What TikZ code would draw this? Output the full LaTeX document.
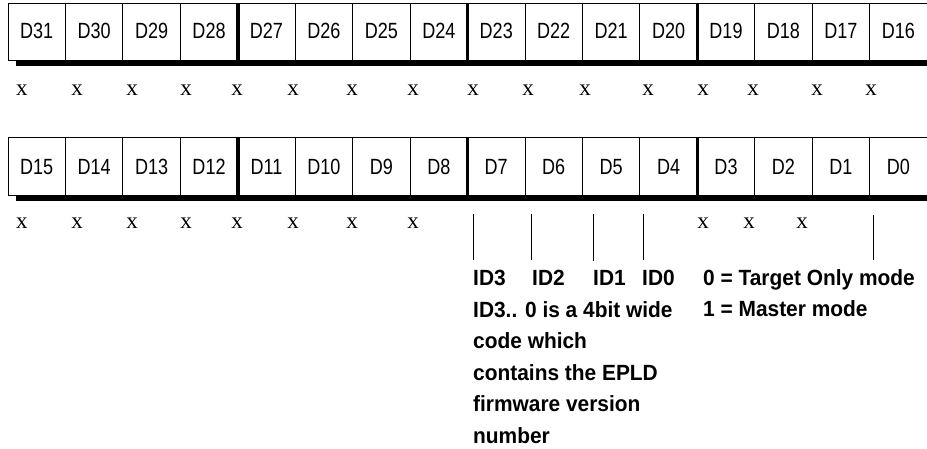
\documentclass[tikz,border=0pt]{standalone}
\usepackage{fontspec}
\newfontfamily\cellfont[FakeStretch=0.82]{Liberation Sans}
\newfontfamily\notefont[FakeStretch=0.95]{Liberation Sans}
\newfontfamily\markfont{Liberation Serif}
\tikzset{
  bitlabel/.style={font=\cellfont\fontsize{22}{26}\selectfont, inner sep=0pt},
  dontcare/.style={font=\markfont\fontsize{23}{26}\selectfont, inner sep=0pt, anchor=base},
  note/.style={font=\notefont\bfseries\fontsize{22}{31.6}\selectfont, inner sep=0pt, anchor=base west, align=left},
  tick/.style={black, line width=0.8pt, shorten >=9pt},
}
\begin{document}
\begin{tikzpicture}[x=1pt,y=-1pt]
\useasboundingbox (0,0) rectangle (927,448);
% register rows: \r = row, \t = top, \b = bottom, \ty = label line
\foreach \r/\t/\b/\ty in {0/3/60/31, 1/137/195/167}
{
    \fill[black] (16,\b) rectangle (935,\b+5.5);
    \draw[line width=0.8pt] (8,\t) rectangle (935,\b);
    \foreach \i in {1,...,15}
        \draw[line width=0.8pt] (8+57.44*\i,\t) -- (8+57.44*\i,\b);
    \foreach \i in {4,8,12}
        \draw[line width=3.5pt] (8+57.44*\i,\t) -- (8+57.44*\i,\b);
    \foreach \i in {0,...,15}
    {
        \pgfmathtruncatemacro\bit{31-16*\r-\i}
        \node[bitlabel] (d\bit) at (8+57.44*\i+28.72,\ty) {D\bit};
    }
}
% unused bits
\foreach \x in {22,77,132,186,237,293,352,413,473,528,585,648,703,753,817,871}
    \node[dontcare] (u\x) at (\x,95) {x};
\foreach \x in {22,77,132,186,237,293,352,413,703,749,802}
    \node[dontcare] (l\x) at (\x,228) {x};
% notes (multi-line nodes sit on their last line)
\node[note] (id3) at (473,285) {ID3};
\node[note] (id2) at (532,285) {ID2};
\node[note] (id1) at (593,285) {ID1};
\node[note] (id0) at (642,285) {ID0};
\node[note] (idtext) at (473,443.4) {ID3.. 0 is a 4bit wide\\code which\\contains the EPLD\\firmware version\\number};
\node[note] (mode) at (703,316.6) {0 = Target Only mode\\1 = Master mode};
\foreach \n/\x in {id3/473,id2/531,id1/593,id0/643}
{
    \coordinate (t\n) at (\x,214);
    \draw[tick] (t\n) -- (t\n |- \n.north);
}
\coordinate (tmode) at (873,215);
\draw[tick] (tmode) -- (tmode |- mode.north);
\end{tikzpicture}
\end{document}
